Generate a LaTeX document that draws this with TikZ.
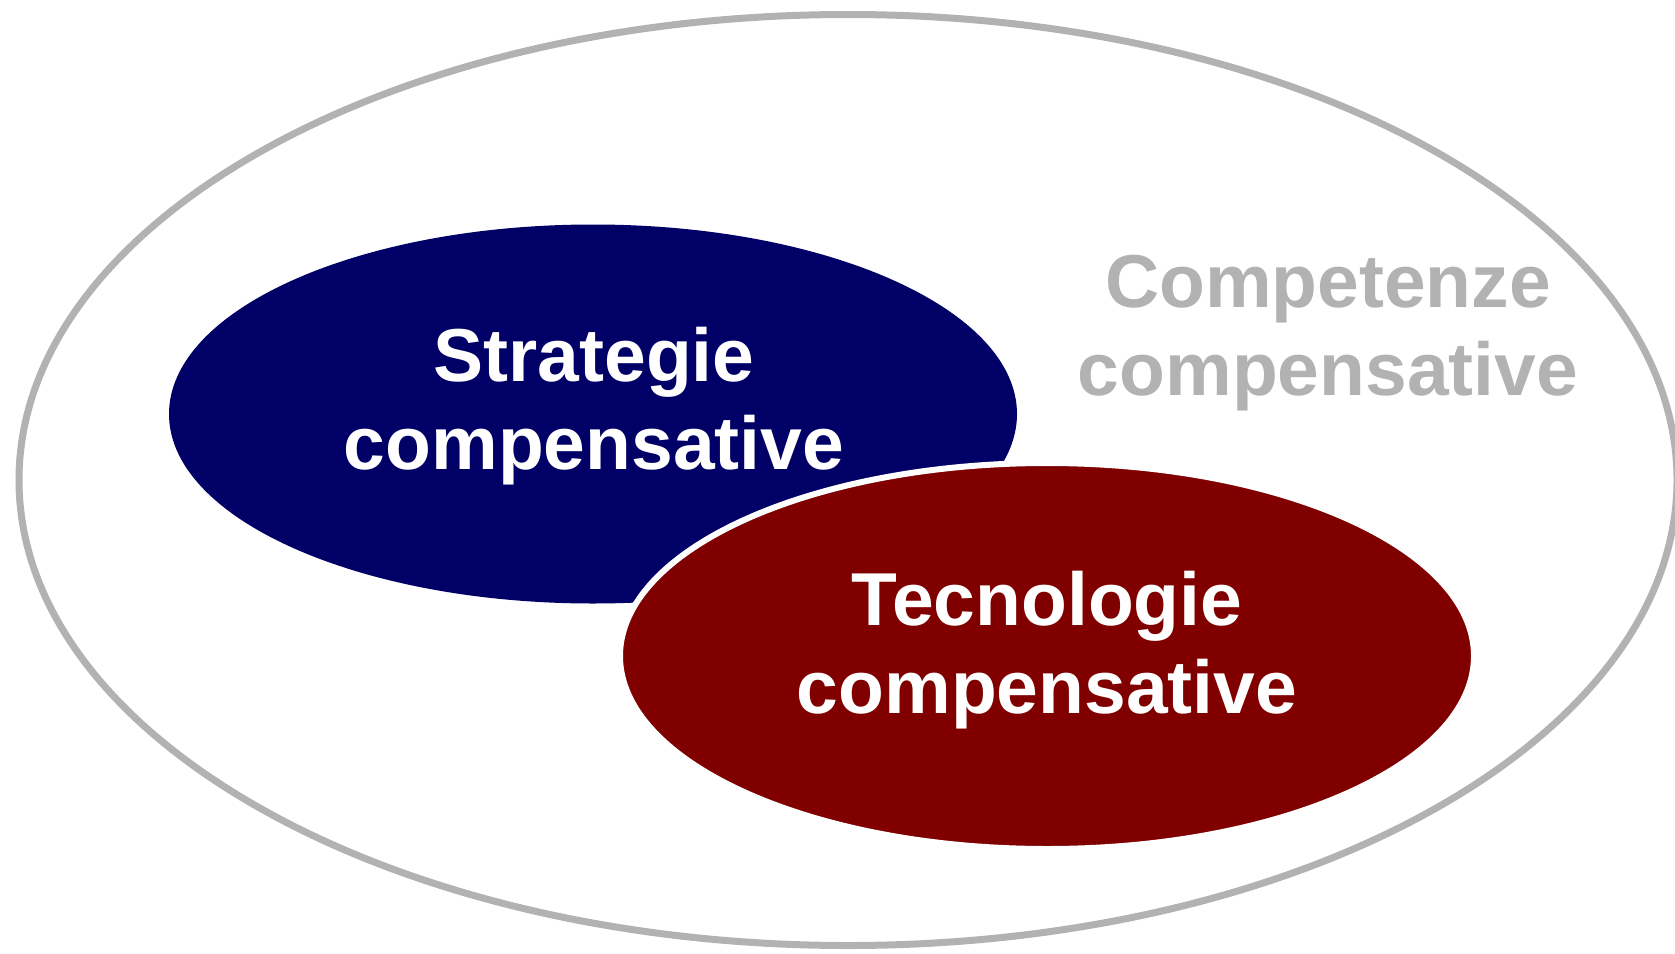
\documentclass[tikz,border=0pt]{standalone}
\usepackage{fontspec}
\setmainfont{Liberation Sans}
\usepackage{tikz}
\usetikzlibrary{shapes.geometric}
\definecolor{navyblob}{HTML}{000066}
\definecolor{darkred}{HTML}{800000}
\definecolor{lightgray}{HTML}{B2B2B2}
\tikzstyle{blob} = [ellipse, inner sep=0pt]
\tikzstyle{label} = [align=center, font=\fontsize{75}{88.7}\selectfont\bfseries, inner sep=0pt]

\begin{document}
\begin{tikzpicture}[x=1pt, y=-1pt]
        \useasboundingbox (0,0) rectangle (1675,953);
        % Ellipses
        \node[blob, draw=lightgray, line width=7pt, minimum width=1658pt, minimum height=931pt] (comp) at (848,480) {};
        \node[blob, fill=navyblob, minimum width=848pt, minimum height=379pt] (strat) at (593,414) {};
        \node[blob, fill=darkred, draw=white, line width=6pt, minimum width=854pt, minimum height=386pt] (tecn) at (1047,656) {};

        % Labels
        \node[label, text=white] (stratlabel) at (594,406) {Strategie\\compensative};
        \node[label, text=white] (tecnlabel) at (1047,650) {Tecnologie\\compensative};
        \node[label, text=lightgray] (complabel) at (1328,333) {Competenze\\compensative};
      \end{tikzpicture}
\end{document}
